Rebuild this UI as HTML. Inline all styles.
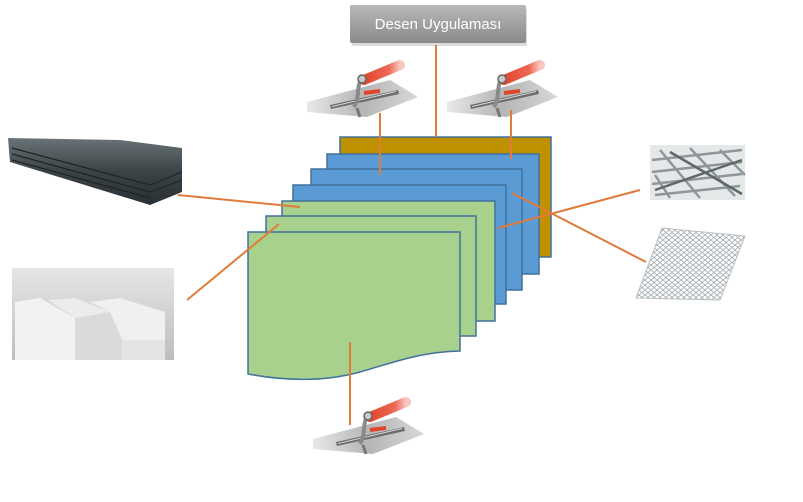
<!DOCTYPE html>
<html><head><meta charset="utf-8"><style>
html,body{margin:0;padding:0;background:#fff;}
svg{display:block;}
</style></head><body>
<svg width="803" height="502" viewBox="0 0 803 502" xmlns="http://www.w3.org/2000/svg">
<defs>
<linearGradient id="box" x1="0" y1="0" x2="0" y2="1"><stop offset="0" stop-color="#b8b8b8"/><stop offset="1" stop-color="#8a8a8a"/></linearGradient>
<linearGradient id="blade" x1="0" y1="0" x2="1" y2="0"><stop offset="0" stop-color="#e8e8e8"/><stop offset="0.5" stop-color="#b5b5b5"/><stop offset="1" stop-color="#d8d8d8"/></linearGradient>
<linearGradient id="red" x1="0" y1="0" x2="1" y2="0"><stop offset="0" stop-color="#e0452c"/><stop offset="0.7" stop-color="#ee6a55"/><stop offset="1" stop-color="#f8c8c0"/></linearGradient>
<linearGradient id="plate" x1="0" y1="0" x2="0" y2="1"><stop offset="0" stop-color="#6a7377"/><stop offset="0.5" stop-color="#3b4346"/><stop offset="1" stop-color="#2a3033"/></linearGradient>
<linearGradient id="wall" x1="0" y1="0" x2="0" y2="1"><stop offset="0" stop-color="#e6e6e6"/><stop offset="1" stop-color="#bdbdbd"/></linearGradient>
<pattern id="mesh" width="6" height="5" patternUnits="userSpaceOnUse"><path d="M0 2.5 L3 0 L6 2.5 L3 5 Z" fill="none" stroke="#9aa3a8" stroke-width="0.8"/></pattern>
<g id="trowel">
<polygon points="-55,24 28,2 56,19 5,39 -55,34" fill="url(#blade)"/>
<polygon points="-32,27 36,12 37,16 -31,31" fill="#6d6d6d"/>
<polygon points="-30,28 34,13 34,14 -30,29" fill="#d9d9d9"/>
<path d="M-5,30 L-2,39" stroke="#777" stroke-width="3"/>
<path d="M-8,29 C-2,20 -6,8 0,0" stroke="#8a8a8a" stroke-width="4" fill="none"/>
<path d="M2,2 L38,-13" stroke="url(#red)" stroke-width="10" stroke-linecap="round"/>
<path d="M2,15 L18,13" stroke="#e0452c" stroke-width="4"/>
<circle cx="0" cy="1" r="4" fill="#c9c9c9" stroke="#666" stroke-width="1.5"/>
</g>
</defs>

<!-- title box -->
<rect x="352" y="7" width="175" height="37" rx="2" fill="#999" opacity="0.35" transform="translate(0,2)"/>
<rect x="350" y="5" width="176" height="38" rx="2" fill="url(#box)"/>
<text x="438" y="29" text-anchor="middle" font-family="Liberation Sans, sans-serif" font-size="15" fill="#fff">Desen Uygulaması</text>

<!-- trowels -->
<use href="#trowel" transform="translate(362,78)"/>
<use href="#trowel" transform="translate(502,78)"/>
<use href="#trowel" transform="translate(368,415)"/>

<!-- steel plates -->
<g>
<polygon points="8,138 120,140 182,148 182,192 150,205 10,162" fill="url(#plate)"/>
<path d="M12,148 L150,185 L182,172 M12,154 L150,192 L182,180 M12,160 L150,198" stroke="#1f2426" stroke-width="1.2" fill="none"/>
<rect x="0" y="125" width="190" height="12" fill="#fff" opacity="0.6"/>
</g>

<!-- blocks -->
<g>
<rect x="12" y="268" width="162" height="92" fill="url(#wall)"/>
<polygon points="15,302 40,298 75,318 75,360 15,360" fill="#f2f2f2"/>
<polygon points="48,300 75,298 110,312 110,345 75,345 75,318" fill="#ececec"/>
<polygon points="90,302 120,298 165,312 165,340 122,340 110,312" fill="#f0f0f0"/>
<polygon points="75,318 110,312 122,340 122,360 75,360" fill="#dadada"/>
<polygon points="122,340 165,340 165,360 122,360" fill="#e4e4e4"/>
</g>

<!-- rebar -->
<g stroke="#8e969a" stroke-width="2.5">
<rect x="650" y="145" width="95" height="55" fill="#d4d8da" stroke="none" opacity="0.6"/>
<path d="M652,160 L742,150 M652,172 L742,162 M652,184 L742,174 M655,195 L740,186"/>
<path d="M660,150 L700,198 M690,148 L735,196 M720,150 L745,175 M655,175 L670,198"/>
<path d="M655,190 L742,160 M670,152 L742,194" stroke="#5f676b"/>
</g>

<!-- wire mesh -->
<polygon points="662,228 745,236 720,300 636,298" fill="url(#mesh)" stroke="#b8c0c4" stroke-width="1"/>

<!-- sheets -->
<g stroke="#41719c" stroke-width="1.5">
<rect x="340" y="137" width="211" height="120" fill="#bf9000"/>
<rect x="327" y="154" width="212" height="120" fill="#5b9bd5"/>
<rect x="311" y="169" width="211" height="121" fill="#5b9bd5"/>
<rect x="293" y="185" width="213" height="119" fill="#5b9bd5"/>
<rect x="282" y="201" width="213" height="120" fill="#a9d18e"/>
<rect x="266" y="216" width="210" height="120" fill="#a9d18e"/>
<path d="M248,232 L460,232 L460,351 C420,352 395,362 360,372 C320,383 280,380 248,374 Z" fill="#a9d18e"/>
</g>

<!-- connectors -->
<g stroke="#e07b39" stroke-width="2" fill="none">
<path d="M436,45 L436,137"/>
<path d="M380,113 L380,175"/>
<path d="M511,110 L511,159"/>
<path d="M178,195 L300,207"/>
<path d="M187,300 L279,224"/>
<path d="M640,190 L498,228"/>
<path d="M646,262 L512,193"/>
<path d="M350,342 L350,425"/>
</g>
</svg>
</body></html>
